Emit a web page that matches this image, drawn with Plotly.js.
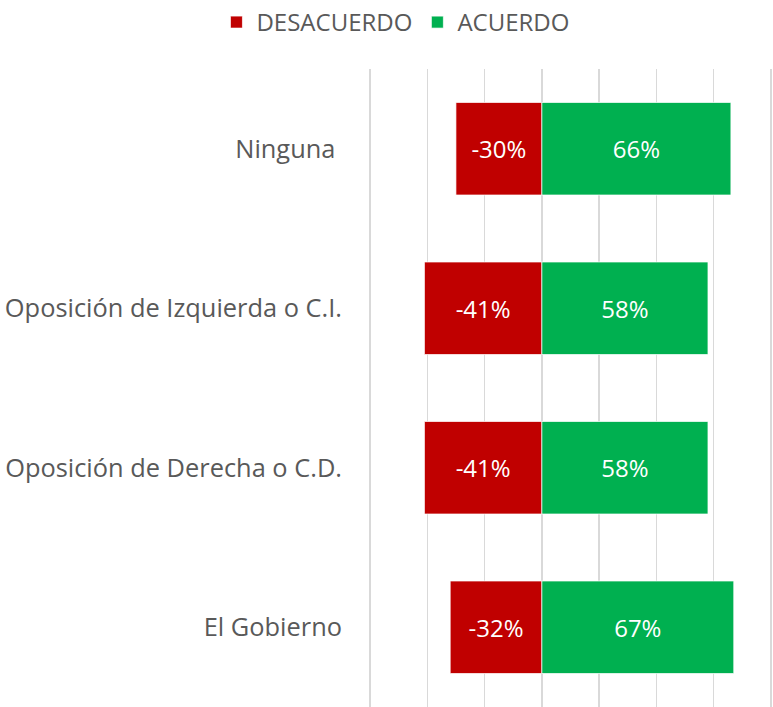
<!DOCTYPE html>
<html>
<head>
<meta charset="utf-8">
<script src="https://cdn.plot.ly/plotly-3.0.1.min.js"></script>
<style>html,body{margin:0;padding:0;background:#fff}#chart{width:773px;height:707px}</style>
</head>
<body>
<div id="chart"></div>
<script>
const categories = ["Ninguna", "Oposición de Izquierda o C.I.", "Oposición de Derecha o C.D.", "El Gobierno"];
const desacuerdo = [-30, -41, -41, -32];
const acuerdo = [66, 58, 58, 67];
const tickLabels = ["Ninguna ", "Oposición de Izquierda o C.I.", "Oposición de Derecha o C.D.", "El Gobierno"];
const gridValues = [-60, -40, -20, 0, 20, 40, 60, 80];

const textFont = {family: "Open Sans, sans-serif", size: 24, color: "#ffffff"};
const traces = [
  {type: "bar", orientation: "h", name: "DESACUERDO", y: categories, x: desacuerdo,
   text: desacuerdo.map(v => v + "%"),
   marker: {color: "#c00000", line: {color: "rgba(255,255,255,0.7)", width: 1}},
   texttemplate: "%{text}", textposition: "inside", insidetextanchor: "middle", textangle: 0,
   textfont: textFont, hoverinfo: "skip"},
  {type: "bar", orientation: "h", name: "ACUERDO", y: categories, x: acuerdo,
   text: acuerdo.map(v => v + "%"),
   marker: {color: "#00b050", line: {color: "rgba(255,255,255,0.7)", width: 1}},
   texttemplate: "%{text}", textposition: "inside", insidetextanchor: "middle", textangle: 0,
   textfont: textFont, hoverinfo: "skip"}
];

const layout = {
  width: 773, height: 707,
  margin: {l: 368, r: 0, t: 69, b: 0},
  paper_bgcolor: "#ffffff", plot_bgcolor: "#ffffff",
  barmode: "relative", bargap: 0.42,
  font: {family: "Open Sans, sans-serif", color: "#595959", size: 24},
  xaxis: {range: [-60.7, 80.7], tickvals: gridValues, showticklabels: false, showgrid: true,
          gridcolor: "#d9d9d9", gridwidth: 1.3, zeroline: true, zerolinecolor: "#d9d9d9",
          zerolinewidth: 1.3, showline: false, fixedrange: true},
  yaxis: {type: "category", autorange: "reversed", showgrid: false, zeroline: false,
          tickvals: categories, ticktext: tickLabels, ticks: "", ticklabelstandoff: 25,
          tickfont: {family: "Open Sans, sans-serif", size: 25.4, color: "#595959"}},
  showlegend: true,
  legend: {orientation: "h", xref: "container", x: 0.28, xanchor: "left",
           yref: "container", y: 1, yanchor: "top",
           font: {family: "Open Sans, sans-serif", size: 24, color: "#595959"},
           traceorder: "normal", itemwidth: 30}
};

Plotly.newPlot("chart", traces, layout, {displayModeBar: false, staticPlot: true});
</script>
</body>
</html>
